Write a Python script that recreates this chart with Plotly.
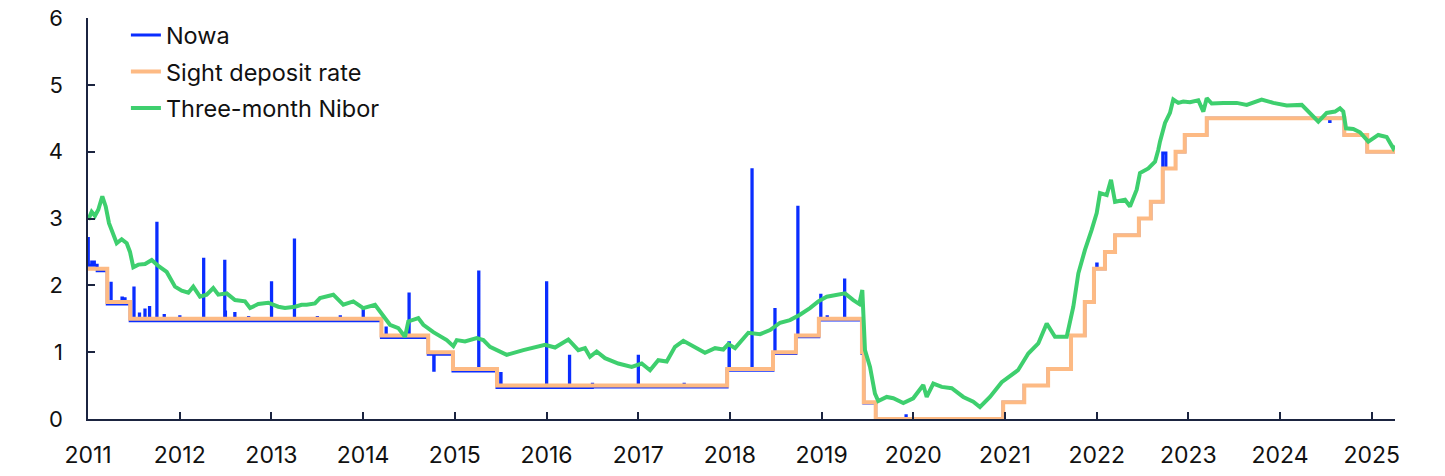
import plotly.graph_objects as go

# ---------------- data (decimal years) ----------------
sdr_dates = [2011.00, 2011.21, 2011.46, 2014.20, 2014.71, 2014.98, 2015.46, 2017.97,
             2018.47, 2018.72, 2018.97, 2019.44, 2019.46, 2019.59, 2020.98, 2021.21,
             2021.47, 2021.72, 2021.87, 2021.97, 2022.09, 2022.20, 2022.46, 2022.59,
             2022.72, 2022.86, 2022.96, 2023.20, 2024.70, 2024.95, 2025.253]
sdr_values = [2.25, 1.75, 1.50, 1.25, 1.00, 0.75, 0.50, 0.75,
              1.00, 1.25, 1.50, 1.00, 0.25, 0.00, 0.25, 0.50,
              0.75, 1.25, 1.75, 2.25, 2.50, 2.75, 3.00, 3.25,
              3.75, 4.00, 4.25, 4.50, 4.25, 4.00, 4.00]

nowa_dates = [2011.000, 2011.004, 2011.040, 2011.070, 2011.100, 2011.210, 2011.250, 2011.253,
              2011.370, 2011.375, 2011.400, 2011.405, 2011.460, 2011.500, 2011.503, 2011.560,
              2011.563, 2011.620, 2011.623, 2011.670, 2011.673, 2011.750, 2011.753, 2011.830,
              2011.833, 2012.000, 2012.003, 2012.260, 2012.263, 2012.490, 2012.493, 2012.500,
              2012.600, 2012.603, 2012.750, 2012.753, 2013.000, 2013.003, 2013.250, 2013.253,
              2013.500, 2013.503, 2013.750, 2013.753, 2014.000, 2014.003, 2014.200, 2014.250,
              2014.253, 2014.500, 2014.503, 2014.710, 2014.770, 2014.775, 2014.980, 2015.260,
              2015.263, 2015.460, 2015.500, 2015.505, 2016.000, 2016.003, 2016.250, 2016.253,
              2016.500, 2016.503, 2017.000, 2017.003, 2017.500, 2017.503, 2017.970, 2017.990,
              2017.995, 2018.240, 2018.243, 2018.470, 2018.490, 2018.493, 2018.720, 2018.740,
              2018.743, 2018.970, 2018.990, 2018.993, 2019.060, 2019.063, 2019.250, 2019.253,
              2019.440, 2019.460, 2019.590, 2019.920, 2019.923, 2020.980, 2021.210, 2021.470,
              2021.720, 2021.870, 2021.970, 2022.000, 2022.005, 2022.090, 2022.200, 2022.460,
              2022.590, 2022.720, 2022.755, 2022.860, 2022.960, 2023.200, 2024.540, 2024.545,
              2024.700, 2024.950, 2025.253]
nowa_values = [2.70, 2.30, 2.35, 2.30, 2.22, 1.72, 2.03, 1.72,
               1.81, 1.72, 1.80, 1.72, 1.47, 1.96, 1.47, 1.57,
               1.47, 1.63, 1.47, 1.67, 1.47, 2.93, 1.47, 1.55,
               1.47, 1.53, 1.47, 2.39, 1.47, 2.36, 1.60, 1.47,
               1.58, 1.47, 1.52, 1.47, 2.04, 1.47, 2.68, 1.47,
               1.52, 1.47, 1.53, 1.47, 1.63, 1.47, 1.22, 1.36,
               1.22, 1.87, 1.22, 0.97, 0.73, 0.97, 0.72, 2.20,
               0.72, 0.47, 0.68, 0.47, 2.04, 0.47, 0.94, 0.47,
               0.52, 0.48, 0.94, 0.48, 0.52, 0.48, 0.73, 1.14,
               0.73, 3.73, 0.73, 0.98, 1.64, 0.98, 1.23, 3.17,
               1.23, 1.48, 1.85, 1.48, 1.53, 1.48, 2.08, 1.48,
               0.98, 0.24, 0.00, 0.05, 0.00, 0.25, 0.50, 0.75,
               1.25, 1.75, 2.25, 2.32, 2.25, 2.50, 2.75, 3.00,
               3.25, 3.98, 3.75, 4.00, 4.25, 4.50, 4.45, 4.50,
               4.25, 4.00, 4.00]

nibor_dates = [2011.003, 2011.040, 2011.076, 2011.112, 2011.156, 2011.193, 2011.229, 2011.276,
               2011.313, 2011.367, 2011.422, 2011.458, 2011.494, 2011.549, 2011.622, 2011.695,
               2011.767, 2011.858, 2011.949, 2012.022, 2012.094, 2012.148, 2012.221, 2012.294,
               2012.366, 2012.421, 2012.513, 2012.603, 2012.712, 2012.767, 2012.857, 2012.966,
               2013.075, 2013.148, 2013.257, 2013.330, 2013.385, 2013.475, 2013.530, 2013.675,
               2013.784, 2013.893, 2014.002, 2014.130, 2014.184, 2014.293, 2014.384, 2014.457,
               2014.493, 2014.602, 2014.657, 2014.766, 2014.912, 2014.984, 2015.021, 2015.111,
               2015.239, 2015.311, 2015.384, 2015.566, 2015.747, 2015.875, 2015.984, 2016.093,
               2016.238, 2016.347, 2016.420, 2016.474, 2016.547, 2016.638, 2016.783, 2016.929,
               2017.038, 2017.129, 2017.219, 2017.311, 2017.401, 2017.492, 2017.619, 2017.728,
               2017.838, 2017.928, 2017.983, 2018.056, 2018.201, 2018.329, 2018.438, 2018.547,
               2018.655, 2018.764, 2018.873, 2018.964, 2019.056, 2019.165, 2019.255, 2019.346,
               2019.411, 2019.444, 2019.473, 2019.528, 2019.582, 2019.618, 2019.710, 2019.782,
               2019.891, 2019.999, 2020.109, 2020.146, 2020.218, 2020.310, 2020.419, 2020.545,
               2020.654, 2020.727, 2020.836, 2020.964, 2021.142, 2021.254, 2021.363, 2021.455,
               2021.545, 2021.673, 2021.745, 2021.800, 2021.872, 2021.945, 2022.000, 2022.036,
               2022.109, 2022.156, 2022.200, 2022.309, 2022.363, 2022.436, 2022.472, 2022.563,
               2022.636, 2022.672, 2022.690, 2022.745, 2022.799, 2022.835, 2022.890, 2022.944,
               2023.017, 2023.108, 2023.163, 2023.200, 2023.254, 2023.381, 2023.527, 2023.636,
               2023.799, 2023.926, 2024.072, 2024.236, 2024.326, 2024.417, 2024.508, 2024.599,
               2024.653, 2024.689, 2024.719, 2024.798, 2024.871, 2024.962, 2025.071, 2025.162,
               2025.234, 2025.253]
nibor_values = [2.98, 3.10, 3.04, 3.13, 3.33, 3.18, 2.93, 2.75,
                2.63, 2.69, 2.63, 2.50, 2.27, 2.31, 2.32, 2.38,
                2.29, 2.20, 1.98, 1.92, 1.89, 1.98, 1.83, 1.86,
                1.96, 1.86, 1.88, 1.78, 1.76, 1.66, 1.72, 1.74,
                1.68, 1.66, 1.68, 1.71, 1.71, 1.73, 1.81, 1.86,
                1.71, 1.76, 1.66, 1.71, 1.61, 1.41, 1.36, 1.23,
                1.46, 1.51, 1.41, 1.30, 1.18, 1.09, 1.18, 1.16,
                1.21, 1.18, 1.08, 0.96, 1.03, 1.08, 1.11, 1.07,
                1.19, 1.03, 1.06, 0.93, 1.01, 0.91, 0.83, 0.78,
                0.83, 0.73, 0.88, 0.86, 1.08, 1.17, 1.08, 0.99,
                1.06, 1.04, 1.12, 1.06, 1.29, 1.27, 1.33, 1.44,
                1.48, 1.56, 1.66, 1.76, 1.83, 1.86, 1.88, 1.78,
                1.72, 1.93, 1.03, 0.78, 0.38, 0.27, 0.33, 0.31,
                0.24, 0.31, 0.51, 0.33, 0.53, 0.48, 0.46, 0.33,
                0.26, 0.18, 0.33, 0.55, 0.73, 0.98, 1.13, 1.43,
                1.23, 1.23, 1.68, 2.18, 2.53, 2.83, 3.08, 3.38,
                3.35, 3.58, 3.25, 3.28, 3.18, 3.43, 3.68, 3.75,
                3.85, 4.03, 4.15, 4.43, 4.58, 4.78, 4.73, 4.75,
                4.74, 4.77, 4.60, 4.80, 4.72, 4.73, 4.73, 4.70,
                4.78, 4.73, 4.69, 4.70, 4.58, 4.45, 4.58, 4.60,
                4.65, 4.60, 4.35, 4.34, 4.29, 4.15, 4.25, 4.22,
                4.05, 4.09]

year_ticks = list(range(2011, 2026))
y_ticks = [0, 1, 2, 3, 4, 5, 6]

# ---------------- figure ----------------
AXIS_COLOR = "#1b2440"
fig = go.Figure()
fig.add_trace(go.Scatter(x=nowa_dates, y=nowa_values, name="Nowa", mode="lines",
                         line=dict(color="#0a2dff", width=3, shape="hv"),
                         legendgroup="g1"))
fig.add_trace(go.Scatter(x=sdr_dates, y=sdr_values, name="Sight deposit rate", mode="lines",
                         line=dict(color="#fdba84", width=4, shape="hv"),
                         legendgroup="g2"))
fig.add_trace(go.Scatter(x=nibor_dates, y=nibor_values, name="Three-month Nibor", mode="lines",
                         line=dict(color="#3ecf6e", width=4),
                         legendgroup="g3"))

fig.update_layout(
    width=1445, height=476,
    margin=dict(l=88, r=50, t=18, b=57, autoexpand=False),
    plot_bgcolor="white", paper_bgcolor="white",
    font=dict(family="Inter", size=20, color="#111111"),
    showlegend=True,
    legend=dict(x=0.029, y=1.012, xanchor="left", yanchor="top",
                bgcolor="rgba(0,0,0,0)", font=dict(size=23.5, color="#111111"),
                tracegroupgap=3, itemwidth=30),
)
fig.update_xaxes(range=[2011, 2025.253], tickvals=year_ticks,
                 ticktext=[str(y) for y in year_ticks],
                 tickfont=dict(size=23),
                 showgrid=False, zeroline=False, showline=True, automargin=False,
                 linecolor=AXIS_COLOR, linewidth=1.5,
                 ticks="inside", ticklen=7, tickcolor=AXIS_COLOR, tickwidth=1.5,
                 ticklabelstandoff=15)
fig.update_yaxes(range=[0, 6], tickvals=y_ticks,
                 tickfont=dict(size=22),
                 showgrid=False, zeroline=False, showline=True, automargin=False,
                 linecolor=AXIS_COLOR, linewidth=1.5,
                 ticks="inside", ticklen=7, tickcolor=AXIS_COLOR, tickwidth=1.5,
                 ticklabelstandoff=19)

fig.write_html("out.html", config={"displayModeBar": False},
               post_script="document.body.style.margin='0';document.body.style.overflow='hidden';")
